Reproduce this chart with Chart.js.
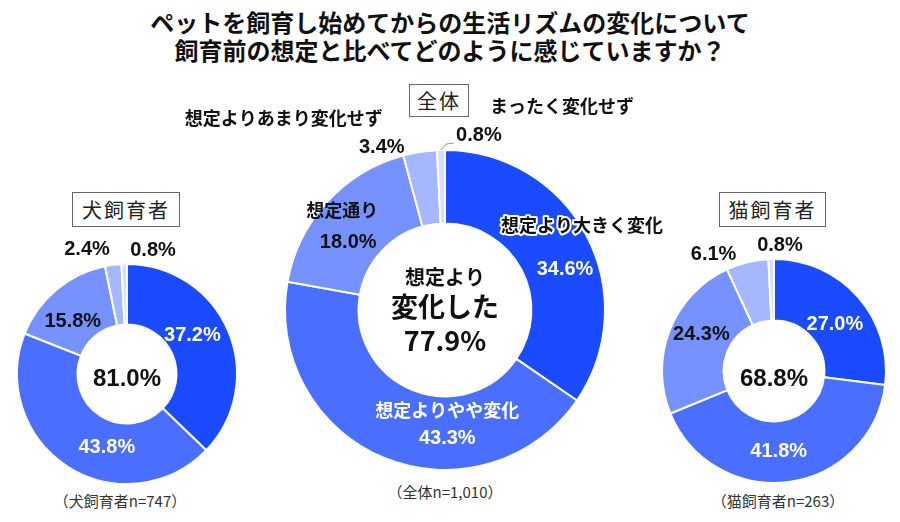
<!DOCTYPE html>
<html lang="ja">
<head>
<meta charset="utf-8">
<script src="https://cdn.jsdelivr.net/npm/chart.js@4.4.1/dist/chart.umd.min.js"></script>
<style>
  body { margin: 0; background: #fff; font-family: "Noto Sans CJK JP", sans-serif; }
  #wrap { position: relative; width: 900px; height: 522px; overflow: hidden; background: #fff; }
  .titulo { position: absolute; left: 0; width: 900px; text-align: center; font-weight: bold; font-size: 24px; color: #111; line-height: 28px; white-space: nowrap; }
  .caixa { position: absolute; border: 1px solid #666; font-size: 20px; color: #222; text-align: center; box-sizing: border-box; letter-spacing: 2px; }
  .grafico { position: absolute; left: 0; top: 0; width: 900px; height: 522px; }
  .nota { position: absolute; font-size: 15px; color: #333; white-space: nowrap; transform: translateX(-50%); }
</style>
</head>
<body>
<div id="wrap">
  <div class="titulo" style="top:8px">ペットを飼育し始めてからの生活リズムの変化について</div>
  <div class="titulo" style="top:36px">飼育前の想定と比べてどのように感じていますか？</div>

  <div class="caixa" id="box0" style="left:72px;top:192px;width:108px;height:35px;line-height:33px"></div>
  <div class="caixa" id="box1" style="left:409px;top:84px;width:60px;height:33px;line-height:31px"></div>
  <div class="caixa" id="box2" style="left:719px;top:192px;width:107px;height:35px;line-height:33px"></div>

  <div class="nota" id="nota0" style="left:120px;top:490px"></div>
  <div class="nota" id="nota1" style="left:445px;top:481px"></div>
  <div class="nota" id="nota2" style="left:778px;top:490px"></div>

  <div class="grafico"><canvas id="caes"></canvas></div>
  <div class="grafico"><canvas id="todos"></canvas></div>
  <div class="grafico"><canvas id="gatos"></canvas></div>
</div>

<script>
// dados
const categorias = ['想定より大きく変化', '想定よりやや変化', '想定通り', '想定よりあまり変化せず', 'まったく変化せず'];
const grupos = ['犬飼育者', '全体', '猫飼育者'];
const amostras = [747, 1010, 263];

const valoresCaes = [37.2, 43.8, 15.8, 2.4, 0.8];
const valoresTodos = [34.6, 43.3, 18.0, 3.4, 0.8];
const valoresGatos = [27.0, 41.8, 24.3, 6.1, 0.8];

const cores = ['#1a4bff', '#4a6fff', '#7592ff', '#a5b7ff', '#d4deff'];

// caixas e notas de rodapé
grupos.forEach((g, i) => {
  document.getElementById('box' + i).textContent = g;
  document.getElementById('nota' + i).textContent = '（' + g + 'n=' + amostras[i].toLocaleString('en-US') + '）';
});

const fonteNum = '"Liberation Sans", Arial, sans-serif';
const fonteJp = '"Noto Sans CJK JP", sans-serif';

// plugin que escreve as porcentagens, nomes e o texto do meio
const rotulos = {
  id: 'rotulos',
  afterDatasetsDraw(chart, args, opts) {
    const ctx = chart.ctx;
    const meta = chart.getDatasetMeta(0);
    const vals = chart.data.datasets[0].data;
    ctx.save();
    ctx.textAlign = 'center';
    ctx.textBaseline = 'middle';

    meta.data.forEach((arc, i) => {
      const p = arc.tooltipPosition(true);
      const x = p.x + opts.ajuste[i][0];
      const y = p.y + opts.ajuste[i][1];
      ctx.font = 'bold 20px ' + fonteNum;
      ctx.fillStyle = i < 2 ? '#fff' : '#111';
      ctx.fillText(vals[i].toFixed(1) + '%', x, y);

      if (opts.nomes) {
        const n = opts.nomes[i];
        ctx.font = 'bold 18px ' + fonteJp;
        const nx = x + n[0], ny = y + n[1];
        if (i === 0) { // contorno branco
          ctx.strokeStyle = '#fff';
          ctx.lineWidth = 4;
          ctx.lineJoin = 'round';
          ctx.strokeText(categorias[i], nx, ny);
        }
        ctx.fillStyle = i === 1 ? '#fff' : '#111';
        ctx.fillText(categorias[i], nx, ny);
      }

      if (opts.linha && i === vals.length - 1) { // linha guia do 0.8%
        const a = (arc.startAngle + arc.endAngle) / 2;
        const ox = arc.x + Math.cos(a) * arc.outerRadius;
        const oy = arc.y + Math.sin(a) * arc.outerRadius;
        ctx.strokeStyle = '#999';
        ctx.lineWidth = 1;
        ctx.beginPath();
        ctx.moveTo(ox, oy);
        ctx.lineTo(ox + 5, oy - 6);
        ctx.lineTo(x - 25, oy - 7);
        ctx.stroke();
      }
    });

    // texto do centro = soma das duas primeiras fatias
    const cx = meta.data[0].x, cy = meta.data[0].y;
    const total = (vals[0] + vals[1]).toFixed(1) + '%';
    ctx.fillStyle = '#111';
    if (opts.centroLongo) {
      ctx.font = 'bold 20px ' + fonteJp;
      ctx.fillText('想定より', cx, cy - 33);
      ctx.font = 'bold 27px ' + fonteJp;
      ctx.fillText('変化した', cx, cy - 3);
      ctx.fillText(total, cx, cy + 31);
    } else {
      ctx.font = 'bold 24px ' + fonteNum;
      ctx.fillText(total, cx, cy + opts.centroY);
    }
    ctx.restore();
  }
};

function criaRosca(id, valores, corte, margem, extra) {
  return new Chart(document.getElementById(id), {
    type: 'doughnut',
    data: {
      labels: categorias,
      datasets: [{
        data: valores,
        backgroundColor: cores,
        borderColor: '#fff',
        borderWidth: 2
      }]
    },
    options: {
      responsive: true,
      maintainAspectRatio: false,
      animation: false,
      cutout: corte,
      layout: { padding: margem },
      plugins: {
        legend: { display: false },
        tooltip: { enabled: false },
        rotulos: extra
      }
    },
    plugins: [rotulos]
  });
}

criaRosca('caes', valoresCaes, '45%', { left: 16, top: 263, right: 662, bottom: 37 }, {
  ajuste: [[-8, -7], [23, 6], [-3, 9], [-30, -45], [28, -44]],
  centroY: 5
});

criaRosca('todos', valoresTodos, '54%', { left: 284, top: 149, right: 294, bottom: 51 }, {
  ajuste: [[11, 17], [49, 14], [-6, 16], [-44, -41], [37, -51]],
  nomes: [[17, -44], [0, -28], [-6, -33], [-98, -29], [83, -30]],
  linha: true,
  centroLongo: true
});

criaRosca('gatos', valoresGatos, '45%', { left: 661, top: 258, right: 13, bottom: 38 }, {
  ajuste: [[0, 7], [-6, 0], [3, -7], [-41, -38], [8, -44]],
  centroY: 8
});
</script>
</body>
</html>
